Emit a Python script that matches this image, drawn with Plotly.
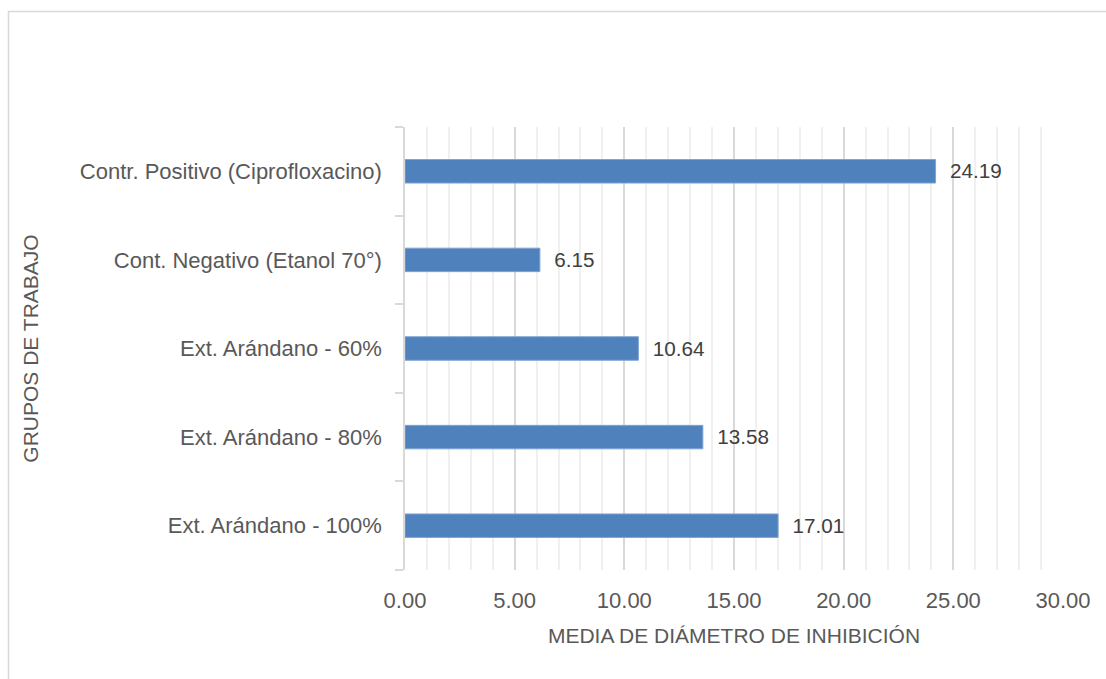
import plotly.graph_objects as go

categories = [
    "Contr. Positivo (Ciprofloxacino)",
    "Cont. Negativo (Etanol 70°)",
    "Ext. Arándano - 60%",
    "Ext. Arándano - 80%",
    "Ext. Arándano - 100%",
]
values = [24.19, 6.15, 10.64, 13.58, 17.01]
x_ticks = [0, 5, 10, 15, 20, 25, 30]
x_title = "MEDIA DE DIÁMETRO DE INHIBICIÓN"
y_title = "GRUPOS DE TRABAJO"

FONT = "Liberation Sans, Arial, sans-serif"
FS = 22
FT = 21

fig = go.Figure(
    go.Bar(
        y=categories,
        x=values,
        orientation="h",
        width=0.265,
        marker=dict(color="#4f81bd", line=dict(color="#7ea3d3", width=1)),
        text=[f"  {v:.2f}" for v in values],
        textposition="outside",
        textfont=dict(family=FONT, size=FS, color="#404040"),
        cliponaxis=False,
    )
)

W, H = 1106, 679
L, R, T, B = 405, 1063, 127, 570
pw, ph = R - L, B - T

fig.update_layout(
    width=W,
    height=H,
    margin=dict(l=L, r=W - R, t=T, b=H - B, pad=0),
    paper_bgcolor="white",
    plot_bgcolor="white",
    showlegend=False,
    font=dict(family=FONT, size=FS, color="#595959"),
    xaxis=dict(
        range=[0, 30],
        tickvals=x_ticks,
        ticktext=[f"{t:.2f}" for t in x_ticks],
        showgrid=True,
        gridcolor="#d9d9d9",
        gridwidth=1.5,
        zeroline=False,
        showline=False,
        ticks="",
        ticklabelstandoff=15,
        tickfont=dict(family=FONT, size=FS, color="#595959"),
        minor=dict(dtick=1, showgrid=True, gridcolor="#f0f0f0", gridwidth=1.5),
        title=dict(text=x_title, font=dict(family=FONT, size=FT, color="#595959"), standoff=16),
        fixedrange=True,
    ),
    yaxis=dict(
        categoryorder="array",
        categoryarray=categories[::-1],
        showline=True,
        linecolor="#d9d9d9",
        linewidth=1.5,
        ticks="outside",
        tickson="boundaries",
        ticklen=8,
        tickcolor="#d9d9d9",
        tickwidth=1.5,
        ticklabelstandoff=17,
        showgrid=False,
        tickfont=dict(family=FONT, size=FS, color="#595959"),
        title=dict(text=y_title, font=dict(family=FONT, size=FT, color="#595959"), standoff=35),
        fixedrange=True,
    ),
    bargap=0.735,
)

# outer chart border
fig.add_shape(
    type="rect",
    xref="paper", yref="paper",
    x0=(8.5 - L) / pw, x1=(1115 - L) / pw,
    y0=(B - 700) / ph, y1=(B - 11.5) / ph,
    line=dict(color="#d9d9d9", width=1.5),
    fillcolor="rgba(0,0,0,0)",
    layer="below",
)

fig.write_html("out.html")
